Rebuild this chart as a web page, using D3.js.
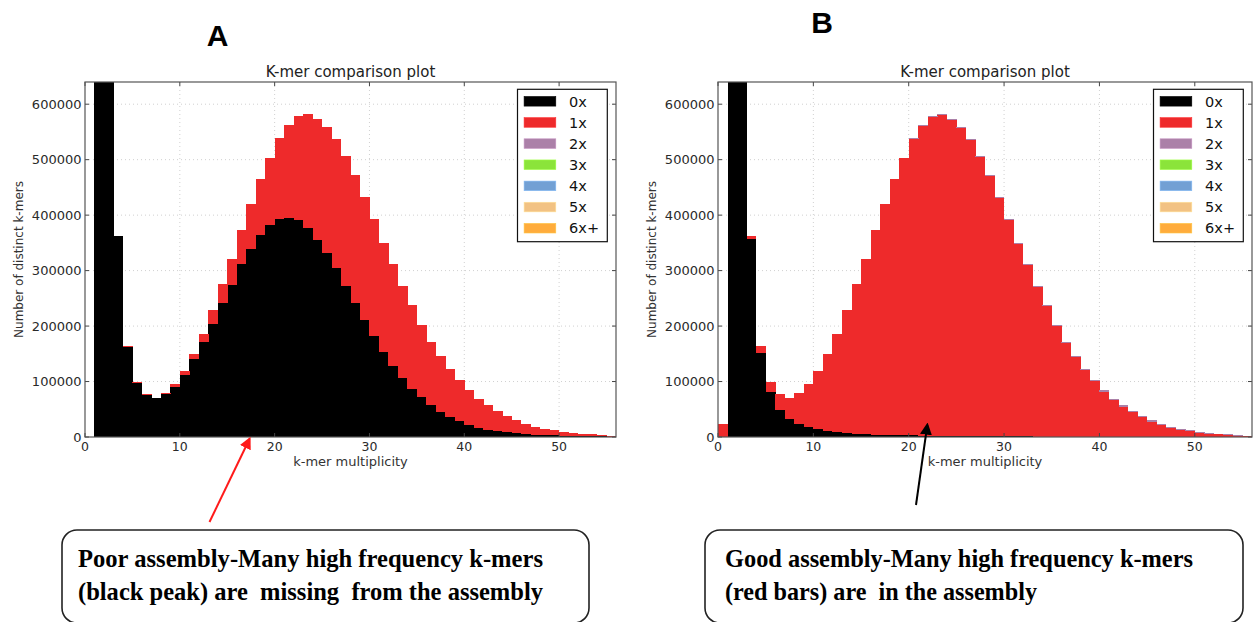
<!DOCTYPE html>
<html><head><meta charset="utf-8">
<script src="https://cdn.jsdelivr.net/npm/d3@7"></script>
<style>body{margin:0;background:#fff}svg{display:block}</style>
</head><body><svg id="c" width="1254" height="622"></svg>
<script>
// ---------- data ----------
const bins = [0,1,2,3,4,5,6,7,8,9,10,11,12,13,14,15,16,17,18,19,20,21,22,23,24,25,26,27,28,29,30,31,32,33,34,35,36,37,38,39,40,41,42,43,44,45,46,47,48,49,50,51,52,53,54,55];
const seriesNames = ["0x","1x","2x","3x","4x","5x","6x+"];
const seriesColors = ["#000000","#ee2a2b","#ab80a8","#8be43a","#72a0d4","#f2c283","#ffac3c"];
const xTicks = [0,10,20,30,40,50];
const yTicks = [0,100000,200000,300000,400000,500000,600000];

// Panel A (poor assembly)
const a0x = [0,3000000,1200000,362000,163000,98000,76000,70000,78000,91000,112500,140000,171500,204600,240700,273800,311700,339400,364600,381500,393500,395300,390500,376000,355000,332000,303800,272000,241900,211800,181700,152800,128800,106500,87200,71600,57800,45700,36700,28900,22300,16800,13200,10200,8400,6600,5400,4200,3600,3000,2400,2000,1600,1300,1000,800];
const a1x = [0,0,0,0,1000,1000,1000,1000,2000,4000,6000,9000,15000,24000,34300,46900,61900,80000,100400,122100,145000,167300,188300,205800,218400,227600,233500,235200,230400,221400,210600,197400,182900,166100,150500,131200,113700,101100,86600,73400,61900,52400,44000,36700,30100,23500,18700,14500,11400,9000,7200,5800,4400,3500,2600,1600];

// Panel B (good assembly)
const b0x = [0,3000000,1200000,356800,152000,81000,49000,33000,24000,18000,14000,11000,8400,7200,6000,5000,4500,4000,3500,3000,2800,2500,2300,2100,1900,1700,1500,1400,1300,1200,1100,1000,950,900,850,800,750,700,650,600,550,500,480,460,440,420,400,380,360,340,320,300,280,260,240,220];
const b1x = [23000,0,0,5200,11700,18000,28000,38000,56000,77000,104500,138000,178100,221400,269000,315700,369100,415400,461500,500600,534200,558600,574900,578100,569800,556200,534000,504000,469200,430100,389300,347300,308800,269700,234900,200000,168700,144000,120500,99500,81400,66500,54500,44200,35900,27500,21600,16300,12700,9800,7600,5900,4300,3300,2300,1300];
const b2x = [0,0,0,0,0,0,0,0,0,0,0,0,0,0,0,0,0,0,0,0,1500,1500,1600,1600,1700,1700,1800,1800,1800,1900,1900,1900,1950,2000,2000,2000,2050,2100,2100,2200,2200,2200,2200,2200,2200,2200,2100,2000,1900,1800,1700,1600,1400,1200,1000,900];

const titleText = "K-mer comparison plot";
const xLabelText = "k-mer multiplicity";
const yLabelText = "Number of distinct k-mers";

// ---------- drawing ----------
const svg = d3.select("#c");
const FONT = "DejaVu Sans, sans-serif";

function drawPanel(id, o, series) {
  const g = svg.append("g");
  const x = d3.scaleLinear().domain([0, 56]).range([o.left, o.right]);
  const y = d3.scaleLinear().domain([0, 640000]).range([o.bottom, o.top]);

  const clipId = "clip" + id;
  svg.append("clipPath").attr("id", clipId).append("rect")
    .attr("x", o.left).attr("y", o.top).attr("width", o.right - o.left).attr("height", o.bottom - o.top);

  // grid
  const grid = g.append("g").attr("stroke", "#d0d0d0").attr("stroke-dasharray", "1,3").attr("stroke-width", 1);
  xTicks.filter(t => t > 0).forEach(t => grid.append("line").attr("x1", x(t)).attr("x2", x(t)).attr("y1", o.top).attr("y2", o.bottom));
  yTicks.filter(t => t > 0).forEach(t => grid.append("line").attr("x1", o.left).attr("x2", o.right).attr("y1", y(t)).attr("y2", y(t)));

  // bars
  const rows = bins.map((b, i) => {
    const r = { bin: b };
    seriesNames.forEach(n => { r[n] = series[n] ? series[n][i] : 0; });
    return r;
  });
  const stacked = d3.stack().keys(seriesNames)(rows);
  const bars = g.append("g").attr("clip-path", `url(#${clipId})`);
  stacked.forEach((layer, li) => {
    bars.append("g").attr("fill", seriesColors[li]).selectAll("rect")
      .data(layer.filter(d => d[1] > d[0]))
      .join("rect")
      .attr("x", d => x(d.data.bin))
      .attr("width", d => x(d.data.bin + 1) - x(d.data.bin) + 0.3)
      .attr("y", d => y(d[1]))
      .attr("height", d => y(d[0]) - y(d[1]))
      .attr("shape-rendering", "crispEdges");
  });

  // ticks (inward, all sides)
  const tk = g.append("g").attr("stroke", "#444").attr("stroke-width", 1);
  xTicks.forEach(t => {
    tk.append("line").attr("x1", x(t)).attr("x2", x(t)).attr("y1", o.bottom).attr("y2", o.bottom - 4);
    tk.append("line").attr("x1", x(t)).attr("x2", x(t)).attr("y1", o.top).attr("y2", o.top + 4);
  });
  yTicks.forEach(t => {
    tk.append("line").attr("x1", o.left).attr("x2", o.left + 4).attr("y1", y(t)).attr("y2", y(t));
    tk.append("line").attr("x1", o.right).attr("x2", o.right - 4).attr("y1", y(t)).attr("y2", y(t));
  });

  // frame
  g.append("rect").attr("x", o.left).attr("y", o.top).attr("width", o.right - o.left).attr("height", o.bottom - o.top)
    .attr("fill", "none").attr("stroke", "#555").attr("stroke-width", 1.2);

  // tick labels
  g.append("g").selectAll("text").data(xTicks).join("text")
    .attr("x", d => x(d)).attr("y", o.bottom + 13.5)
    .attr("text-anchor", "middle").attr("font-family", FONT).attr("font-size", 12.5).attr("fill", "#2a2a2a")
    .text(d => d);
  g.append("g").selectAll("text").data(yTicks).join("text")
    .attr("x", o.left - 3.5).attr("y", d => y(d) + 4.5)
    .attr("text-anchor", "end").attr("font-family", FONT).attr("font-size", 13).attr("fill", "#2a2a2a")
    .text(d => d);

  // title and axis labels
  g.append("text").attr("x", (o.left + o.right) / 2).attr("y", 77.3).attr("text-anchor", "middle")
    .attr("font-family", FONT).attr("font-size", 15).attr("fill", "#222").text(titleText);
  g.append("text").attr("x", (o.left + o.right) / 2).attr("y", 465.7).attr("text-anchor", "middle")
    .attr("font-family", FONT).attr("font-size", 13).attr("fill", "#333").text(xLabelText);
  g.append("text").attr("transform", `translate(${o.left - 62},${(o.top + o.bottom) / 2}) rotate(-90)`)
    .attr("text-anchor", "middle").attr("font-family", FONT).attr("font-size", 12).attr("fill", "#333").text(yLabelText);

  // legend
  const lx = o.right - 98.5, ly = 89.3;
  const lg = g.append("g");
  lg.append("rect").attr("x", lx).attr("y", ly).attr("width", 89.8).attr("height", 152.4)
    .attr("fill", "#fff").attr("stroke", "#111").attr("stroke-width", 1.2);
  seriesNames.forEach((n, i) => {
    const cy = 101.3 + i * 21.15;
    lg.append("rect").attr("x", lx + 6.6).attr("y", cy - 4.8).attr("width", 31.7).attr("height", 9.6)
      .attr("fill", seriesColors[i]).attr("stroke", d3.color(seriesColors[i]).brighter(0.4)).attr("stroke-width", 0.6);
    lg.append("text").attr("x", lx + 51.6).attr("y", cy + 5.2).attr("font-family", FONT).attr("font-size", 14.5)
      .attr("fill", "#111").text(n);
  });
}

drawPanel("A", { left: 85, right: 616, top: 82, bottom: 437 }, { "0x": a0x, "1x": a1x });
drawPanel("B", { left: 718, right: 1252, top: 82, bottom: 437 }, { "0x": b0x, "1x": b1x, "2x": b2x });

// panel letters
svg.append("text").attr("x", 217.5).attr("y", 46).attr("text-anchor", "middle")
  .attr("font-family", "Liberation Sans, Arial, sans-serif").attr("font-weight", "bold").attr("font-size", 30).text("A");
svg.append("text").attr("x", 822).attr("y", 33).attr("text-anchor", "middle")
  .attr("font-family", "Liberation Sans, Arial, sans-serif").attr("font-weight", "bold").attr("font-size", 30).text("B");

// arrows
const defs = svg.append("defs");
function marker(id, color) {
  defs.append("marker").attr("id", id).attr("viewBox", "0 0 10 10").attr("refX", 8).attr("refY", 5)
    .attr("markerWidth", 6).attr("markerHeight", 6).attr("orient", "auto")
    .append("path").attr("d", "M0,0 L10,5 L0,10 z").attr("fill", color);
}
marker("arrRed", "#ff1a1a");
marker("arrBlack", "#000");
svg.append("line").attr("x1", 209.5).attr("y1", 522).attr("x2", 249.5).attr("y2", 439)
  .attr("stroke", "#ff1a1a").attr("stroke-width", 2).attr("marker-end", "url(#arrRed)");
svg.append("line").attr("x1", 916).attr("y1", 505).attr("x2", 927.3).attr("y2", 425)
  .attr("stroke", "#000").attr("stroke-width", 2).attr("marker-end", "url(#arrBlack)");

// annotation boxes
const notes = [
  { x: 62, w: 527, tx: 78, lines: ["Poor assembly-Many high frequency k-mers", "(black peak) are  missing  from the assembly"], lens: [465, 465] },
  { x: 705, w: 538, tx: 725, lines: ["Good assembly-Many high frequency k-mers", "(red bars) are  in the assembly"], lens: [468, 312] }
];
notes.forEach(n => {
  svg.append("rect").attr("x", n.x).attr("y", 530).attr("width", n.w).attr("height", 93).attr("rx", 15).attr("ry", 15)
    .attr("fill", "#fff").attr("stroke", "#222").attr("stroke-width", 1.6);
  n.lines.forEach((t, i) => {
    svg.append("text").attr("x", n.tx).attr("y", i === 0 ? 566.7 : 600)
      .attr("font-family", "Liberation Serif, Times New Roman, serif").attr("font-weight", "bold").attr("font-size", 24.5)
      .attr("textLength", n.lens[i]).attr("lengthAdjust", "spacingAndGlyphs")
      .style("white-space", "pre").text(t);
  });
});
</script>
</body></html>
